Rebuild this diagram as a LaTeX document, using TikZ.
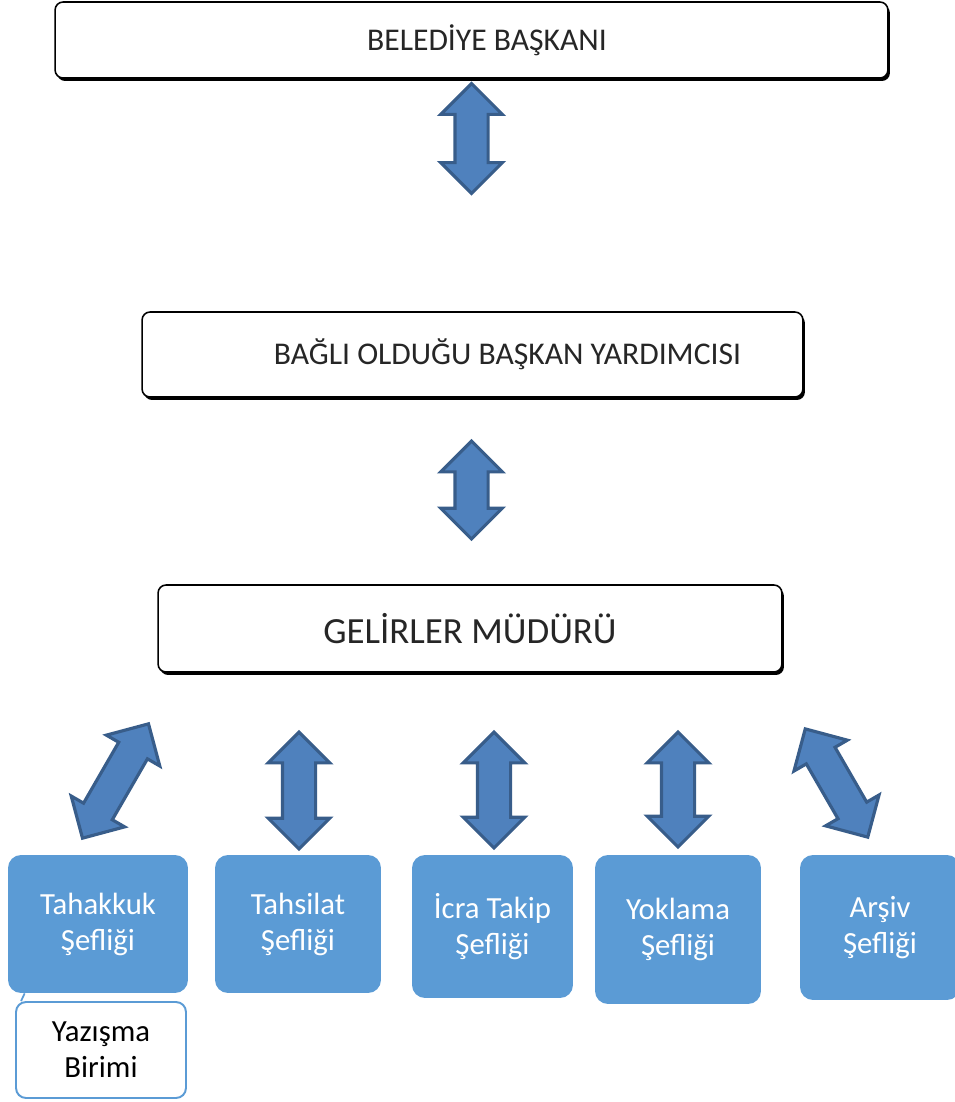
\documentclass[tikz,border=0pt]{standalone}
\usepackage{fontspec}
\setmainfont{Carlito}
\usetikzlibrary{shapes.arrows,shadows}

\definecolor{boxblue}{HTML}{5B9BD5}
\definecolor{arrowfill}{HTML}{4F81BD}
\definecolor{arrowline}{HTML}{385D8A}
\definecolor{titlegray}{HTML}{262626}

\begin{document}
\begin{tikzpicture}[x=0.02cm, y=-0.02cm]
    \useasboundingbox (0,0) rectangle (954,1102);

    % Define styles
    \tikzstyle{topbox}=[rectangle, rounded corners=0.16cm, draw=black, line width=0.9pt, fill=white, text=titlegray, font=\fontsize{18}{22}\selectfont, drop shadow={shadow xshift=0.04cm, shadow yshift=-0.06cm, fill=black, opacity=1}]
    \tikzstyle{unitbox}=[rectangle, rounded corners=0.26cm, fill=boxblue, text=white, align=center, font=\fontsize{17.5}{20.5}\selectfont]
    \tikzstyle{subbox}=[rectangle, rounded corners=0.2cm, draw=boxblue, line width=1.1pt, fill=white, align=center, font=\fontsize{17.5}{20.5}\selectfont]
    \tikzstyle{blockarrow}=[double arrow, draw=arrowline, fill=arrowfill, line width=1.8pt, inner xsep=0pt, inner ysep=0.3cm, minimum width=1.17cm, double arrow head extend=0.285cm, double arrow tip angle=90]

    \node[topbox, minimum width=16.66cm, minimum height=1.52cm] (baskan) at (471.5,40) {\hspace*{0.62cm}BELEDİYE BAŞKANI};
    \node[topbox, minimum width=13.22cm, minimum height=1.7cm] (yardimci) at (472.5,354.5) {\hspace*{1.4cm}BAĞLI OLDUĞU BAŞKAN YARDIMCISI};
    \node[topbox, minimum width=12.48cm, minimum height=1.74cm, font=\fontsize{21}{25}\selectfont] (mudur) at (470,628.5) {GELİRLER MÜDÜRÜ};

    \node[blockarrow, rotate=90, minimum height=2.2cm] (ok1) at (471.5,138.5) {};
    \node[blockarrow, rotate=90, minimum height=1.96cm] (ok2) at (471.5,490) {};

    \node[blockarrow, rotate=60, minimum height=2.64cm] (okA) at (115.5,781) {};
    \node[blockarrow, rotate=90, minimum height=2.34cm] (okB) at (299,790.5) {};
    \node[blockarrow, rotate=90, minimum height=2.32cm] (okC) at (494,790) {};
    \node[blockarrow, rotate=90, minimum height=2.3cm] (okD) at (678,789.5) {};
    \node[blockarrow, rotate=120, minimum height=2.5cm] (okE) at (836.5,783) {};

    \node[unitbox, minimum width=3.6cm, minimum height=2.76cm] (tahakkuk) at (98,924) {Tahakkuk\\Şefliği};
    \node[unitbox, minimum width=3.32cm, minimum height=2.76cm] (tahsilat) at (298,924) {Tahsilat\\Şefliği};
    \node[unitbox, minimum width=3.22cm, minimum height=2.86cm] (icra) at (492.5,926.5) {İcra Takip\\Şefliği};
    \node[unitbox, minimum width=3.32cm, minimum height=2.98cm] (yoklama) at (678,929.5) {Yoklama\\Şefliği};
    \node[unitbox, minimum width=3.2cm, minimum height=2.9cm] (arsiv) at (880,927.5) {Arşiv\\Şefliği};

    \node[subbox, minimum width=3.4cm, minimum height=1.92cm] (yazisma) at (101,1050) {Yazışma\\Birimi};
    \draw[boxblue, line width=1pt] ([xshift=0.34cm]tahakkuk.south west) -- ([xshift=0.12cm]yazisma.north west);
\end{tikzpicture}
\end{document}
